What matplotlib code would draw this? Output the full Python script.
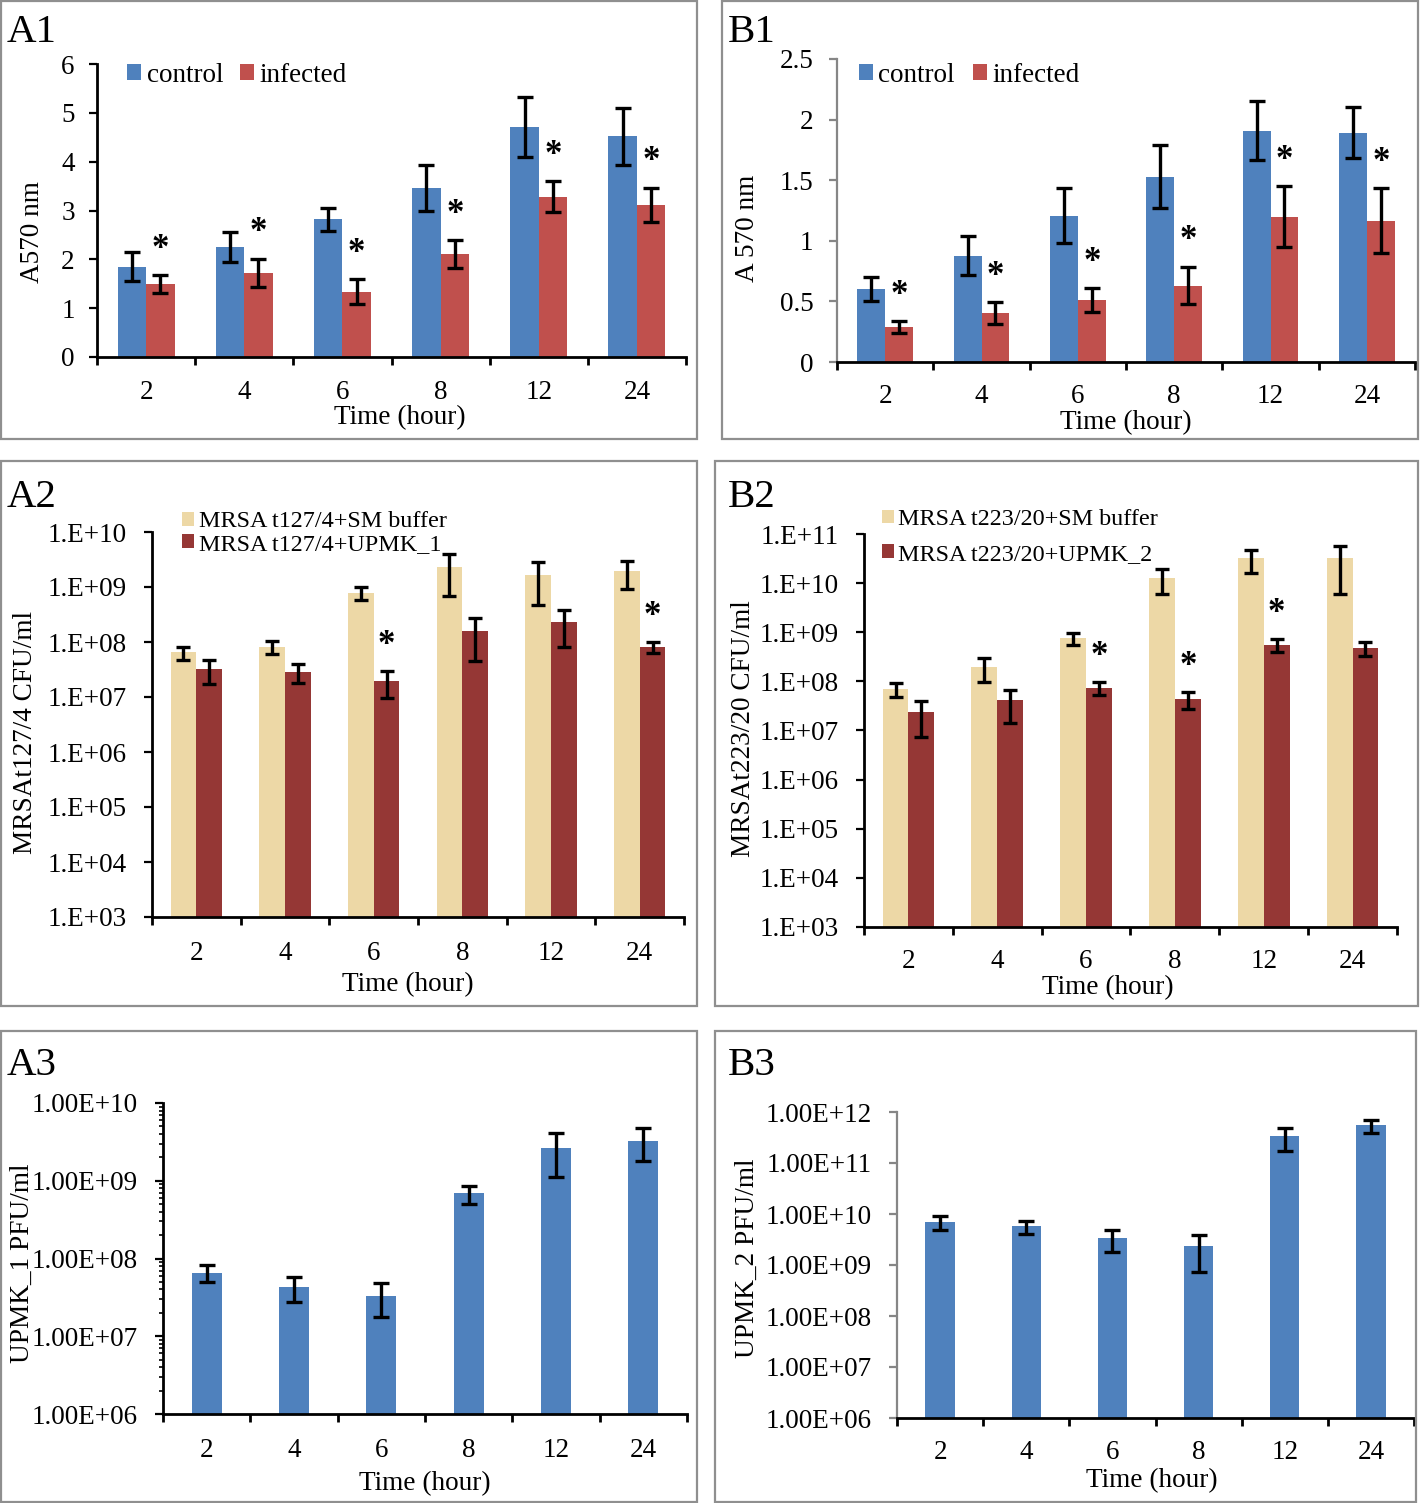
import matplotlib
matplotlib.use('Agg')
import matplotlib.pyplot as plt
from matplotlib.patches import Patch, Rectangle
from matplotlib.ticker import LogLocator, NullFormatter, FixedLocator, FixedFormatter
import numpy as np

plt.rcParams['font.family'] = ['Liberation Serif', 'DejaVu Serif']

# ---------------- data ----------------
hours = ['2', '4', '6', '8', '12', '24']

a1_control = [1.85, 2.25, 2.82, 3.46, 4.71, 4.52]
a1_control_err = [0.29, 0.31, 0.24, 0.47, 0.62, 0.58]
a1_infected = [1.50, 1.72, 1.34, 2.11, 3.28, 3.12]
a1_infected_err = [0.18, 0.29, 0.25, 0.28, 0.32, 0.35]
a1_sig = [1, 1, 1, 1, 1, 1]

b1_control = [0.60, 0.877, 1.207, 1.529, 1.909, 1.892]
b1_control_err = [0.10, 0.16, 0.225, 0.26, 0.245, 0.21]
b1_infected = [0.289, 0.404, 0.509, 0.63, 1.20, 1.166]
b1_infected_err = [0.05, 0.09, 0.10, 0.155, 0.25, 0.27]
b1_sig = [1, 1, 1, 1, 1, 1]

a2_sm = [6.5e7, 8.2e7, 7.9e8, 2.3e9, 1.67e9, 1.96e9]
a2_sm_err = [1.75e7, 2.1e7, 2.2e8, 1.6e9, 1.2e9, 1.05e9]
a2_upmk = [3.24e7, 2.89e7, 1.95e7, 1.6e8, 2.3e8, 8.1e7]
a2_upmk_err = [1.55e7, 1.1e7, 1.0e7, 1.15e8, 1.5e8, 1.7e7]
a2_sig = [0, 0, 1, 0, 0, 1]

b2_sm = [6.97e7, 2.0e8, 7.57e8, 1.26e10, 3.2e10, 3.2e10]
b2_sm_err = [2.2e7, 1.05e8, 2.1e8, 6.5e9, 1.6e10, 2.6e10]
b2_upmk = [2.35e7, 4.1e7, 7.43e7, 4.4e7, 5.53e8, 4.77e8]
b2_upmk_err = [1.6e7, 2.7e7, 2.25e7, 1.65e7, 1.65e8, 1.55e8]
b2_sig = [0, 0, 1, 1, 1, 0]

a3_phage = [6.58e7, 4.31e7, 3.30e7, 6.86e8, 2.62e9, 3.29e9]
a3_phage_err = [1.6e7, 1.55e7, 1.55e7, 1.8e8, 1.5e9, 1.5e9]

b3_phage = [6.97e9, 5.73e9, 3.33e9, 2.32e9, 3.33e11, 5.48e11]
b3_phage_err = [2.2e9, 1.65e9, 1.55e9, 1.6e9, 1.6e11, 1.6e11]

a1_ticks = [0, 1, 2, 3, 4, 5, 6]
a1_ticklabels = ['0', '1', '2', '3', '4', '5', '6']
b1_ticks = [0, 0.5, 1, 1.5, 2, 2.5]
b1_ticklabels = ['0', '0.5', '1', '1.5', '2', '2.5']
a2_exps = [3, 4, 5, 6, 7, 8, 9, 10]
a2_ticklabels = ['1.E+03', '1.E+04', '1.E+05', '1.E+06', '1.E+07', '1.E+08', '1.E+09', '1.E+10']
b2_exps = [3, 4, 5, 6, 7, 8, 9, 10, 11]
b2_ticklabels = ['1.E+03', '1.E+04', '1.E+05', '1.E+06', '1.E+07', '1.E+08', '1.E+09', '1.E+10', '1.E+11']
a3_exps = [6, 7, 8, 9, 10]
a3_ticklabels = ['1.00E+06', '1.00E+07', '1.00E+08', '1.00E+09', '1.00E+10']
b3_exps = [6, 7, 8, 9, 10, 11, 12]
b3_ticklabels = ['1.00E+06', '1.00E+07', '1.00E+08', '1.00E+09', '1.00E+10', '1.00E+11', '1.00E+12']

# ---------------- styling ----------------
BLUE = '#4F81BD'
RED = '#C0504D'
TAN = '#EDD8A6'
DARKRED = '#953735'
FRAME = '#8f8f8f'
GRAYAX = '#868686'

W, H = 1420, 1503
fig = plt.figure(figsize=(W / 100, H / 100), dpi=100)

TICKFS = 19.5
LABFS = 19.6
STARFS = 25


def add_frame(x0, y0, x1, y1):
    fig.add_artist(Rectangle((x0 / W, 1 - y1 / H), (x1 - x0) / W, (y1 - y0) / H,
                             transform=fig.transFigure, fill=False, ec=FRAME, lw=1.6))


def add_ax(x0, y0, x1, y1):
    ax = fig.add_axes([x0 / W, 1 - y1 / H, (x1 - x0) / W, (y1 - y0) / H])
    ax._px = (x0, y0, x1, y1)
    return ax


def to_axes(ax, x, y):
    x0, y0, x1, y1 = ax._px
    return (x - x0) / (x1 - x0), (y1 - y) / (y1 - y0)


def style(ax, xlabel_px, ylabel_px, ylabel, ycolor='black', ypad=12, xpad=17):
    n = len(hours)
    ax.set_xlim(-0.5, n - 0.5)
    for s in ['top', 'right']:
        ax.spines[s].set_visible(False)
    ax.spines['bottom'].set_linewidth(2.0)
    ax.spines['bottom'].set_color('black')
    ax.spines['left'].set_color(ycolor)
    ax.spines['left'].set_linewidth(2.0 if ycolor == 'black' else 1.6)
    ax.set_xticks(np.arange(n + 1) - 0.5)
    ax.set_xticklabels([''] * (n + 1))
    ax.set_xticks(np.arange(n), minor=True)
    ax.set_xticklabels(hours, minor=True)
    ax.tick_params(axis='x', which='major', direction='out', length=6, width=2, color='black')
    ax.tick_params(axis='x', which='minor', length=0, pad=xpad, labelsize=TICKFS)
    ax.tick_params(axis='y', which='major', direction='out', length=6, width=1.6,
                   color=ycolor, labelsize=TICKFS, pad=ypad)
    ax.tick_params(axis='y', which='minor', direction='out', length=3, width=1.2, color=ycolor)
    ax.set_xlabel('Time (hour)', fontsize=LABFS, va='center', ha='center')
    ax.xaxis.set_label_coords(*to_axes(ax, *xlabel_px))
    ax.set_ylabel(ylabel, fontsize=LABFS, va='center', ha='center')
    ax.yaxis.set_label_coords(*to_axes(ax, *ylabel_px))
    ax.set_facecolor('none')


def log_axis(ax, exps, labels):
    ax.set_yscale('log')
    ax.set_ylim(10.0 ** exps[0], 10.0 ** exps[-1])
    ax.yaxis.set_major_locator(FixedLocator([10.0 ** e for e in exps]))
    ax.yaxis.set_major_formatter(FixedFormatter(labels))
    ax.yaxis.set_minor_locator(LogLocator(base=10, subs=np.arange(2, 10)))
    ax.yaxis.set_minor_formatter(NullFormatter())


def grouped(ax, s1, e1, s2, e2, c1, c2, sig, capsize=5.5):
    x = np.arange(len(hours))
    w = 0.29
    ax.bar(x - w / 2, s1, w, color=c1, zorder=2)
    ax.bar(x + w / 2, s2, w, color=c2, zorder=2)
    ax.errorbar(x - w / 2, s1, yerr=e1, fmt='none', ecolor='black', elinewidth=2.4,
                capsize=capsize, capthick=2.4, zorder=3)
    ax.errorbar(x + w / 2, s2, yerr=e2, fmt='none', ecolor='black', elinewidth=2.4,
                capsize=capsize, capthick=2.4, zorder=3)
    for i, flag in enumerate(sig):
        if flag:
            ax.annotate('*', xy=(x[i] + w / 2, s2[i] + e2[i]), xytext=(0, 12.5),
                        textcoords='offset points', ha='center', va='baseline',
                        fontsize=STARFS, fontweight='bold')


def single(ax, s, e, c):
    x = np.arange(len(hours))
    w = 0.34
    ax.bar(x, s, w, color=c, zorder=2)
    ax.errorbar(x, s, yerr=e, fmt='none', ecolor='black', elinewidth=2.4,
                capsize=5.5, capthick=2.4, zorder=3)


def panel_letter(text, x, y):
    fig.text(x / W, 1 - y / H, text, fontsize=29.5, ha='left', va='baseline')


def legend(ax, labels, colors, anchor_px, ncol, fs, hl, tp, cs, ls=0.2):
    handles = [Patch(facecolor=c, edgecolor='none') for c in colors]
    ax.legend(handles, labels, ncol=ncol, loc='center left',
              bbox_to_anchor=(anchor_px[0] / W, 1 - anchor_px[1] / H),
              bbox_transform=fig.transFigure, frameon=False, fontsize=fs,
              handlelength=hl, handleheight=hl, handletextpad=tp, columnspacing=cs,
              borderpad=0, borderaxespad=0, labelspacing=ls)


# ---------------- frames ----------------
add_frame(1, 1, 697, 439)
add_frame(722, 1, 1418, 439)
add_frame(1, 461, 697, 1006)
add_frame(715, 461, 1418, 1006)
add_frame(1, 1031, 697, 1502)
add_frame(715, 1031, 1416, 1502)

# ---------------- A1 ----------------
ax = add_ax(97, 64, 686, 357)
grouped(ax, a1_control, a1_control_err, a1_infected, a1_infected_err, BLUE, RED, a1_sig)
ax.set_ylim(0, 6)
ax.set_yticks(a1_ticks)
ax.set_yticklabels(a1_ticklabels)
style(ax, (400, 418), (32, 232), 'A570 nm', ypad=10, xpad=16.5)
legend(ax, ['control', 'infected'], [BLUE, RED], (127, 75), 2, 19.5, 0.52, 0.22, 0.6)
panel_letter('A1', 7, 42)

# ---------------- B1 ----------------
ax = add_ax(837, 59, 1415, 362)
grouped(ax, b1_control, b1_control_err, b1_infected, b1_infected_err, BLUE, RED, b1_sig)
ax.set_ylim(0, 2.5)
ax.set_yticks(b1_ticks)
ax.set_yticklabels(b1_ticklabels)
style(ax, (1126, 423), (748, 228), 'A 570 nm', ycolor=GRAYAX, ypad=11, xpad=16)
legend(ax, ['control', 'infected'], [BLUE, RED], (859, 75), 2, 19.5, 0.52, 0.19, 0.67)
panel_letter('B1', 728, 42)

# ---------------- A2 ----------------
ax = add_ax(152, 532, 684, 917)
log_axis(ax, a2_exps, a2_ticklabels)
grouped(ax, a2_sm, a2_sm_err, a2_upmk, a2_upmk_err, TAN, DARKRED, a2_sig, capsize=5.3)
style(ax, (408, 985), (26, 732), 'MRSAt127/4 CFU/ml', ypad=12)
legend(ax, ['MRSA t127/4+SM buffer', 'MRSA t127/4+UPMK_1'], [TAN, DARKRED], (182, 533),
       1, 17.4, 0.5, 0.2, 0.5, ls=0.05)
panel_letter('A2', 7, 507)

# ---------------- B2 ----------------
ax = add_ax(864, 534, 1397, 927)
log_axis(ax, b2_exps, b2_ticklabels)
grouped(ax, b2_sm, b2_sm_err, b2_upmk, b2_upmk_err, TAN, DARKRED, b2_sig, capsize=5.3)
style(ax, (1108, 988), (743, 729), 'MRSAt223/20 CFU/ml', ypad=12, xpad=15.5)
legend(ax, ['MRSA t223/20+SM buffer', 'MRSA t223/20+UPMK_2'], [TAN, DARKRED], (882, 537),
       1, 17.4, 0.5, 0.17, 0.5, ls=0.57)
panel_letter('B2', 728, 507)

# ---------------- A3 ----------------
ax = add_ax(163, 1103, 687, 1414)
log_axis(ax, a3_exps, a3_ticklabels)
single(ax, a3_phage, a3_phage_err, BLUE)
style(ax, (425, 1484), (22, 1263), 'UPMK_1 PFU/ml', ypad=12)
panel_letter('A3', 7, 1075)

# ---------------- B3 ----------------
ax = add_ax(897, 1112, 1414, 1418)
log_axis(ax, b3_exps, b3_ticklabels)
single(ax, b3_phage, b3_phage_err, BLUE)
style(ax, (1152, 1481), (747, 1258), 'UPMK_2 PFU/ml', ycolor=GRAYAX, ypad=12, xpad=16)
panel_letter('B3', 728, 1075)

fig.savefig('out.png', dpi=100)
